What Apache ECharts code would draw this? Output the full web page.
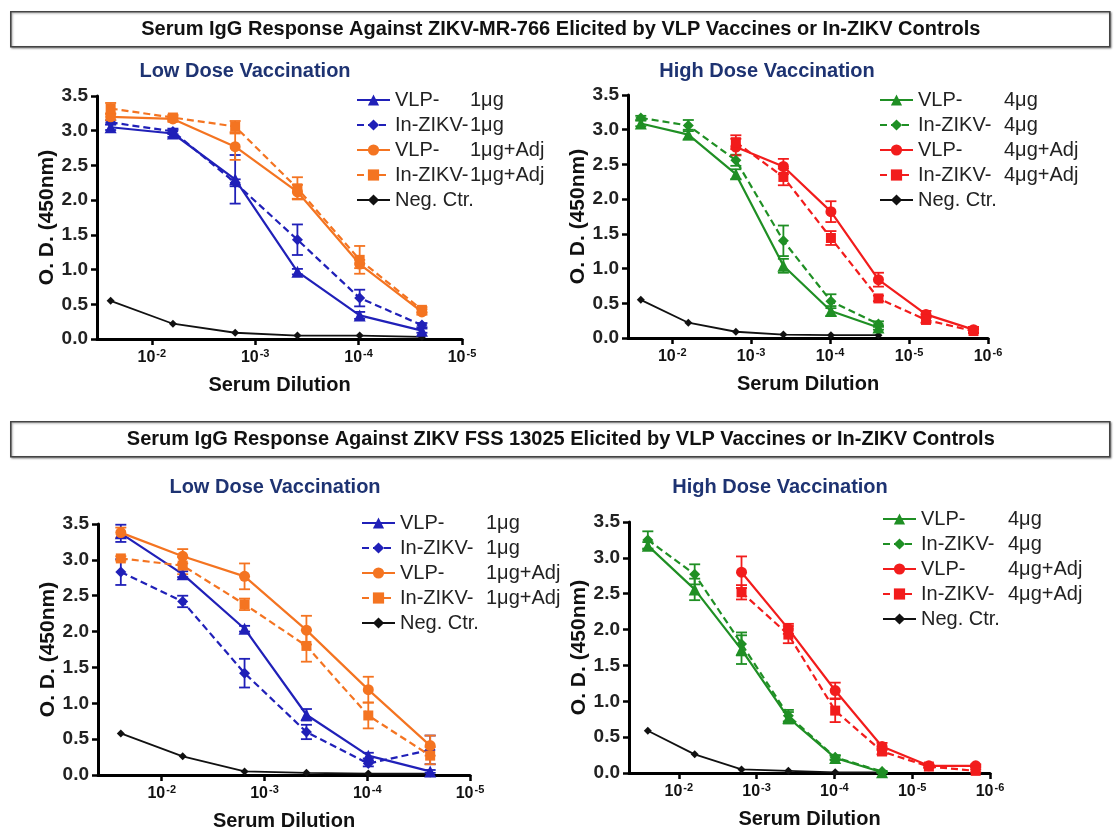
<!DOCTYPE html>
<html>
<head>
<meta charset="utf-8">
<script src="https://cdn.jsdelivr.net/npm/echarts@6/dist/echarts.min.js"></script>
<style>
html,body{margin:0;padding:0;background:#fff;}
#chart{width:1117px;height:832px;}
</style>
</head>
<body>
<div id="chart"></div>
<script>
// ---------------- DATA ----------------
// serum dilution factors (1:40 ... ), x axis shows 10^-n
const dil6 = [40, 160, 640, 2560, 10240, 40960];
const dil8 = [40, 160, 640, 2560, 10240, 40960, 163840, 655360];
const xTickExps = [2, 3, 4, 5, 6];
const yTicks = [0, 0.5, 1.0, 1.5, 2.0, 2.5, 3.0, 3.5];

const mainTitles = [
  'Serum IgG Response Against ZIKV-MR-766 Elicited by VLP Vaccines or In-ZIKV Controls',
  'Serum IgG Response Against ZIKV FSS 13025 Elicited by VLP Vaccines or In-ZIKV Controls'
];
const panelTitles = ['Low Dose Vaccination', 'High Dose Vaccination', 'Low Dose Vaccination', 'High Dose Vaccination'];

// Panel A: MR-766, low dose
const mrLow_vlp = [3.05, 2.96, 2.30, 0.97, 0.34, 0.12];
const mrLow_vlp_err = [0.04, 0.05, 0.35, 0.04, 0.05, 0.03];
const mrLow_inz = [3.12, 2.99, 2.25, 1.43, 0.59, 0.20];
const mrLow_inz_err = [0.03, 0.04, 0.05, 0.22, 0.12, 0.03];
const mrLow_vlpAdj = [3.20, 3.17, 2.77, 2.12, 1.08, 0.39];
const mrLow_vlpAdj_err = [0.05, 0.04, 0.19, 0.10, 0.06, 0.04];
const mrLow_inzAdj = [3.32, 3.19, 3.06, 2.17, 1.14, 0.42];
const mrLow_inzAdj_err = [0.08, 0.04, 0.08, 0.16, 0.20, 0.04];
const mrLow_neg = [0.55, 0.22, 0.09, 0.05, 0.05, 0.03];

// Panel B: MR-766, high dose
const mrHigh_vlp = [3.09, 2.93, 2.36, 1.04, 0.39, 0.15];
const mrHigh_vlp_err = [0.04, 0.07, 0.07, 0.10, 0.07, 0.03];
const mrHigh_inz = [3.17, 3.06, 2.56, 1.40, 0.53, 0.20];
const mrHigh_inz_err = [0.03, 0.08, 0.08, 0.22, 0.10, 0.04];
const mrHigh_vlpAdj = [null, null, 2.75, 2.47, 1.82, 0.84, 0.34, 0.12];
const mrHigh_vlpAdj_err = [null, null, 0.12, 0.11, 0.15, 0.10, 0.05, 0.04];
const mrHigh_inzAdj = [null, null, 2.82, 2.32, 1.44, 0.57, 0.26, 0.10];
const mrHigh_inzAdj_err = [null, null, 0.10, 0.12, 0.10, 0.04, 0.04, 0.03];
const mrHigh_neg = [0.55, 0.22, 0.09, 0.05, 0.04, 0.04];

// Panel C: FSS 13025, low dose
const fssLow_vlp = [3.37, 2.80, 2.04, 0.84, 0.27, 0.05];
const fssLow_vlp_err = [0.12, 0.04, 0.04, 0.08, 0.04, 0.02];
const fssLow_inz = [2.83, 2.42, 1.42, 0.60, 0.16, 0.35];
const fssLow_inz_err = [0.18, 0.08, 0.20, 0.10, 0.04, 0.20];
const fssLow_vlpAdj = [3.38, 3.05, 2.77, 2.02, 1.19, 0.41];
const fssLow_vlpAdj_err = [0.07, 0.10, 0.18, 0.20, 0.18, 0.14];
const fssLow_inzAdj = [3.02, 2.92, 2.38, 1.80, 0.83, 0.27];
const fssLow_inzAdj_err = [0.03, 0.12, 0.08, 0.22, 0.18, 0.12];
const fssLow_neg = [0.58, 0.26, 0.05, 0.03, 0.02, 0.02];

// Panel D: FSS 13025, high dose
const fssHigh_vlp = [3.17, 2.56, 1.72, 0.77, 0.21, 0.01];
const fssHigh_vlp_err = [0.05, 0.15, 0.20, 0.08, 0.03, 0.01];
const fssHigh_inz = [3.25, 2.77, 1.80, 0.80, 0.22, 0.02];
const fssHigh_inz_err = [0.12, 0.14, 0.16, 0.08, 0.03, 0.01];
const fssHigh_vlpAdj = [null, null, 2.80, 2.01, 1.15, 0.37, 0.10, 0.10];
const fssHigh_vlpAdj_err = [null, null, 0.22, 0.07, 0.11, 0.05, 0.02, 0.02];
const fssHigh_inzAdj = [null, null, 2.52, 1.93, 0.87, 0.30, 0.09, 0.03];
const fssHigh_inzAdj_err = [null, null, 0.10, 0.12, 0.16, 0.04, 0.02, 0.02];
const fssHigh_neg = [0.59, 0.26, 0.05, 0.03, 0.01, 0.01];

// legend labels: [first column, second column]
const lowLabels = [['VLP-', '1μg'], ['In-ZIKV-', '1μg'], ['VLP-', '1μg+Adj'], ['In-ZIKV-', '1μg+Adj'], ['Neg. Ctr.', '']];
const highLabels = [['VLP-', '4μg'], ['In-ZIKV-', '4μg'], ['VLP-', '4μg+Adj'], ['In-ZIKV-', '4μg+Adj'], ['Neg. Ctr.', '']];

// ---------------- STYLE ----------------
const FONT = '"Liberation Sans", Arial, Helvetica, sans-serif';
const C = {blue: '#2020b8', orange: '#f47421', green: '#1f8f24', red: '#f21c1c', black: '#111111', navy: '#1e3372'};

const grids = [
  {left: 97, top: 96, width: 365, height: 243},
  {left: 628, top: 95, width: 360, height: 243},
  {left: 98, top: 524, width: 372, height: 251},
  {left: 629, top: 522, width: 361, height: 251}
];
const xRanges = [[1.47, 5], [1.44, 6], [1.38, 5], [1.36, 6]];
const legendPos = [
  {left: 351, top: 85, col: 75},
  {left: 874, top: 85, col: 86},
  {left: 356, top: 508, col: 86},
  {left: 877, top: 504, col: 87}
];
const titlePos = [[240, 56], [762, 56], [270, 472], [775, 472]];

const panels = [
  {dil: dil6, labels: lowLabels, colA: C.blue, colB: C.orange, tag: 'A',
   s: [[mrLow_vlp, mrLow_vlp_err], [mrLow_inz, mrLow_inz_err], [mrLow_vlpAdj, mrLow_vlpAdj_err], [mrLow_inzAdj, mrLow_inzAdj_err], [mrLow_neg, null]]},
  {dil: dil8, labels: highLabels, colA: C.green, colB: C.red, tag: 'B',
   s: [[mrHigh_vlp, mrHigh_vlp_err], [mrHigh_inz, mrHigh_inz_err], [mrHigh_vlpAdj, mrHigh_vlpAdj_err], [mrHigh_inzAdj, mrHigh_inzAdj_err], [mrHigh_neg, null]]},
  {dil: dil6, labels: lowLabels, colA: C.blue, colB: C.orange, tag: 'C',
   s: [[fssLow_vlp, fssLow_vlp_err], [fssLow_inz, fssLow_inz_err], [fssLow_vlpAdj, fssLow_vlpAdj_err], [fssLow_inzAdj, fssLow_inzAdj_err], [fssLow_neg, null]]},
  {dil: dil8, labels: highLabels, colA: C.green, colB: C.red, tag: 'D',
   s: [[fssHigh_vlp, fssHigh_vlp_err], [fssHigh_inz, fssHigh_inz_err], [fssHigh_vlpAdj, fssHigh_vlpAdj_err], [fssHigh_inzAdj, fssHigh_inzAdj_err], [fssHigh_neg, null]]}
];

const symbols = ['triangle', 'diamond', 'circle', 'rect', 'diamond'];
const symbolSizes = [12, 11, 11, 10, 8];
const dashed = [false, true, false, true, false];

const option = {
  animation: false,
  backgroundColor: '#ffffff',
  textStyle: {fontFamily: FONT},
  grid: grids,
  xAxis: [],
  yAxis: [],
  legend: [],
  title: [],
  series: [],
  graphic: []
};

const nameMap = {};

panels.forEach((p, gi) => {
  const xr = xRanges[gi];
  const exps = xTickExps.filter(e => e <= xr[1]);
  option.xAxis.push({
    type: 'value', gridIndex: gi, min: xr[0], max: xr[1],
    name: 'Serum Dilution', nameLocation: 'middle', nameGap: 36,
    nameTextStyle: {fontSize: 20, fontWeight: 'bold', color: '#111', fontFamily: FONT},
    axisLine: {show: true, onZero: false, lineStyle: {color: '#000', width: 3}},
    axisTick: {show: true, customValues: exps, length: 6, lineStyle: {color: '#000', width: 2.5}},
    axisLabel: {
      customValues: exps, margin: 9, color: '#111',
      formatter: v => '{b|10}{s|-' + Math.round(v) + '}',
      rich: {
        b: {fontSize: 16, fontWeight: 'bold', fontFamily: FONT, color: '#111'},
        s: {fontSize: 11, fontWeight: 'bold', fontFamily: FONT, color: '#111', verticalAlign: 'top', padding: [0, 0, 9, 1]}
      }
    },
    splitLine: {show: false}
  });
  option.yAxis.push({
    type: 'value', gridIndex: gi, min: 0, max: 3.5, interval: 0.5,
    name: 'O. D. (450nm)', nameLocation: 'middle', nameGap: 39, nameRotate: 90,
    nameTextStyle: {fontSize: 21, fontWeight: 'bold', color: '#111', fontFamily: FONT},
    axisLine: {show: true, onZero: false, lineStyle: {color: '#000', width: 3}},
    axisTick: {show: true, length: 6, lineStyle: {color: '#000', width: 2.5}},
    axisLabel: {fontSize: 19, fontWeight: 'bold', color: '#222', margin: 9, fontFamily: FONT,
      formatter: v => v.toFixed(1)},
    splitLine: {show: false}
  });
  option.title.push({
    text: panelTitles[gi], left: titlePos[gi][0], top: titlePos[gi][1], textAlign: 'center',
    textStyle: {fontSize: 20, fontWeight: 'bold', color: C.navy, fontFamily: FONT}
  });

  const legendNames = [];
  p.s.forEach((pair, si) => {
    const vals = pair[0], errs = pair[1];
    const color = si === 4 ? C.black : (si < 2 ? p.colA : p.colB);
    const name = p.tag + si + ' ' + p.labels[si].join(' ');
    nameMap[name] = p.labels[si];
    legendNames.push(name);
    const data = [];
    p.dil.forEach((d, i) => { if (vals[i] != null) data.push([Math.log10(d), vals[i]]); });
    if (errs) {
      const edata = [];
      p.dil.forEach((d, i) => { if (vals[i] != null) edata.push([Math.log10(d), vals[i] - errs[i], vals[i] + errs[i]]); });
      option.series.push({
        type: 'custom', name: name + ' err', xAxisIndex: gi, yAxisIndex: gi, silent: true, z: 3,
        data: edata, encode: {x: 0, y: [1, 2]},
        renderItem: (params, api) => {
          const x = api.value(0);
          const lo = api.coord([x, api.value(1)]);
          const hi = api.coord([x, api.value(2)]);
          const w = 5.5;
          const st = {stroke: color, lineWidth: 1.8, fill: null};
          return {type: 'group', children: [
            {type: 'line', shape: {x1: lo[0], y1: lo[1], x2: hi[0], y2: hi[1]}, style: st},
            {type: 'line', shape: {x1: lo[0] - w, y1: lo[1], x2: lo[0] + w, y2: lo[1]}, style: st},
            {type: 'line', shape: {x1: hi[0] - w, y1: hi[1], x2: hi[0] + w, y2: hi[1]}, style: st}
          ]};
        }
      });
    }
    option.series.push({
      type: 'line', name: name, xAxisIndex: gi, yAxisIndex: gi, z: si === 4 ? 2 : 4,
      data: data, symbol: symbols[si], symbolSize: symbolSizes[si], showSymbol: true,
      lineStyle: {color: color, width: si === 4 ? 1.8 : 2.2, type: dashed[si] ? [7, 4] : 'solid'},
      itemStyle: {color: color, borderWidth: 0},
      emphasis: {disabled: true}
    });
  });
  const lp = legendPos[gi];
  option.legend.push({
    orient: 'vertical', left: lp.left, top: lp.top, itemWidth: 33, itemHeight: 14, itemGap: 5,
    data: legendNames, selectedMode: false,
    textStyle: {fontSize: 20, color: '#222', fontFamily: FONT,
      rich: {a: {width: lp.col, fontSize: 20, fontFamily: FONT, color: '#222'}, b: {fontSize: 20, fontFamily: FONT, color: '#222'}}},
    formatter: n => {
      const l = nameMap[n];
      if (!l[1]) return '{b|' + l[0] + '}';
      return '{a|' + l[0] + '}{b|' + l[1] + '}';
    }
  });
});

// main section titles in boxes
[[10, 11], [10, 421]].forEach((pos, i) => {
  option.graphic.push({
    type: 'group', left: pos[0], top: pos[1], children: [
      {type: 'rect', shape: {x: 0, y: 0, width: 1099, height: 35},
       style: {fill: '#fff', stroke: '#444', lineWidth: 1.6, shadowBlur: 2, shadowOffsetX: 1, shadowOffsetY: 1, shadowColor: 'rgba(0,0,0,0.35)'}},
      {type: 'text', x: 550, y: 18,
       style: {text: mainTitles[i], align: 'center', verticalAlign: 'middle', fontSize: 20, fontWeight: 'bold', fontFamily: FONT, fill: '#111'}}
    ]
  });
});

const chart = echarts.init(document.getElementById('chart'), null, {renderer: 'canvas'});
chart.setOption(option);
</script>
</body>
</html>
